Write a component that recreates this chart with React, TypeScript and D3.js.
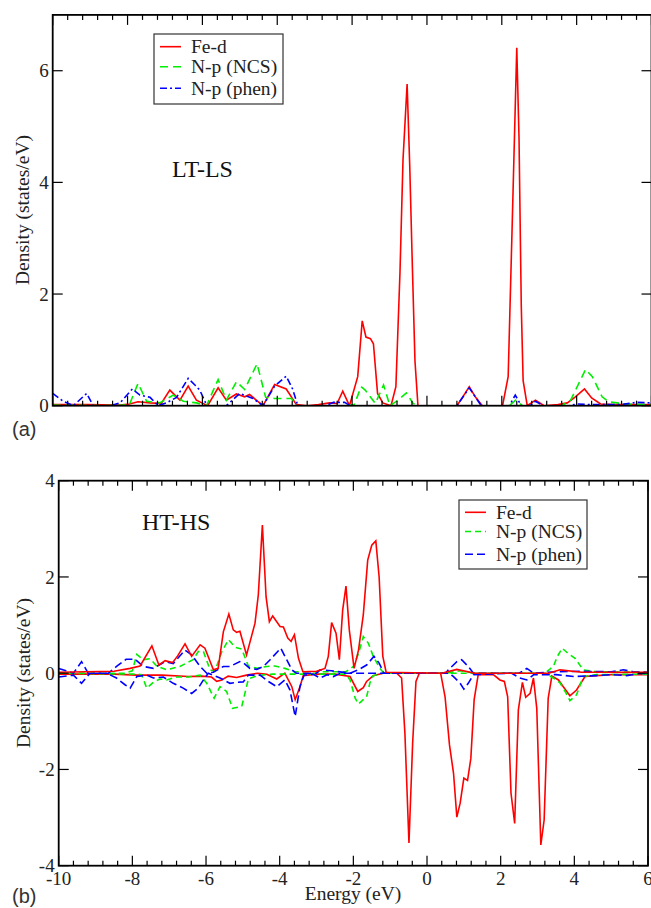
import React from "react";
import * as d3 from "d3";

type P = [number, number];

// ---------- Panel (a): LT-LS ----------
const feD_LT: P[] = [[-10,0.02],[-9.1,0.02],[-8.2,0.01],[-7.95,0.03],[-7.72,0.07],[-7.4,0.05],[-7.1,0.04],[-6.87,0.28],[-6.6,0.1],[-6.38,0.35],[-6.16,0.1],[-5.86,0.0],[-5.58,0.32],[-5.36,0.1],[-5.09,0.21],[-4.87,0.16],[-4.74,0.2],[-4.38,0.0],[-4.07,0.38],[-3.76,0.3],[-3.49,0.02],[-3.2,0.0],[-2.9,0.02],[-2.6,0.05],[-2.4,0.04],[-2.25,0.26],[-2.07,0.0],[-1.85,0.52],[-1.73,1.52],[-1.63,1.23],[-1.51,1.2],[-1.43,1.11],[-1.32,0.22],[-1.18,0.05],[-0.96,0.0],[-0.83,0.34],[-0.72,2.4],[-0.64,4.4],[-0.53,5.76],[-0.46,4.3],[-0.39,2.5],[-0.32,0.8],[-0.24,0.0],[0.8,0.0],[0.95,0.15],[1.13,0.34],[1.3,0.15],[1.48,0.0],[2.02,0.0],[2.17,0.52],[2.28,3.3],[2.4,6.41],[2.46,4.8],[2.52,1.8],[2.57,0.45],[2.68,0.0],[2.9,0.1],[3.13,0.0],[3.5,0.02],[3.75,0.05],[3.95,0.15],[4.21,0.3],[4.4,0.14],[4.64,0.03],[5.0,0.02],[6,0.02]];
const ncs_LT: P[] = [[-10,0.01],[-8.3,0.0],[-7.95,0.02],[-7.72,0.4],[-7.49,0.08],[-7.14,0.05],[-6.78,0.19],[-6.51,0.08],[-6.16,0.05],[-5.89,0.0],[-5.58,0.47],[-5.36,0.1],[-5.09,0.43],[-4.87,0.29],[-4.54,0.75],[-4.31,0.15],[-4.07,0.13],[-3.62,0.13],[-3.49,0.0],[-2.1,0.0],[-1.94,0.02],[-1.76,0.34],[-1.65,0.28],[-1.38,0.04],[-1.16,0.37],[-0.99,0.0],[-0.77,0.1],[-0.55,0.23],[-0.37,0.04],[-0.2,0.0],[2.2,0.0],[2.37,0.1],[2.55,0.0],[3.6,0.0],[3.84,0.1],[4.24,0.65],[4.42,0.52],[4.68,0.16],[4.86,0.07],[5.3,0.03],[6,0.02]];
const phen_LT: P[] = [[-10,0.22],[-9.72,0.08],[-9.45,0.0],[-9.09,0.22],[-8.92,0.0],[-8.47,0.0],[-8.2,0.05],[-7.87,0.3],[-7.67,0.19],[-7.4,0.15],[-7.18,0.0],[-6.96,0.05],[-6.69,0.15],[-6.38,0.49],[-6.2,0.37],[-6.07,0.28],[-5.88,0.0],[-5.36,0.0],[-5.0,0.22],[-4.65,0.13],[-4.38,0.0],[-4.07,0.35],[-3.76,0.53],[-3.59,0.3],[-3.45,0.0],[-2.7,0.0],[-2.5,0.06],[-2.2,0.06],[-2.05,0.0],[0.8,0.0],[1.13,0.32],[1.45,0.0],[2.2,0.0],[2.36,0.19],[2.52,0.0],[2.75,0.0],[2.9,0.08],[3.1,0.0],[3.8,0.0],[4.0,0.03],[4.4,0.02],[5.2,0.02],[5.6,0.06],[6,0.05]];

// ---------- Panel (b): HT-HS ----------
const feUp_HT: P[] = [[-10,0.02],[-8.5,0.04],[-8.06,0.1],[-7.79,0.15],[-7.47,0.57],[-7.28,0.17],[-7.11,0.26],[-6.91,0.22],[-6.77,0.36],[-6.57,0.61],[-6.39,0.35],[-6.16,0.59],[-6.03,0.52],[-5.8,0.07],[-5.67,0.1],[-5.53,0.86],[-5.38,1.23],[-5.26,0.9],[-5.17,0.85],[-5.08,0.87],[-4.9,0.38],[-4.67,1.04],[-4.58,1.63],[-4.47,3.08],[-4.37,1.59],[-4.28,1.07],[-4.19,1.19],[-3.99,0.97],[-3.9,0.96],[-3.78,0.73],[-3.69,0.66],[-3.6,0.8],[-3.49,0.31],[-3.37,0.03],[-3.0,0.04],[-2.77,0.1],[-2.68,0.35],[-2.59,1.05],[-2.47,0.83],[-2.38,0.28],[-2.29,1.31],[-2.2,1.81],[-2.11,0.9],[-1.98,0.1],[-1.86,0.48],[-1.73,1.21],[-1.61,2.35],[-1.5,2.66],[-1.39,2.75],[-1.3,2.0],[-1.2,0.35],[-1.11,0.02],[0.4,0.0],[0.81,0.08],[1.3,0.0],[3.3,0.0],[3.61,0.07],[4.2,0.02],[6,0.02]];
const feDn_HT: P[] = [[-10,-0.02],[-8.5,-0.02],[-7.88,-0.04],[-7.2,-0.04],[-6.48,-0.07],[-6.12,-0.06],[-5.85,-0.08],[-5.71,-0.17],[-5.57,-0.14],[-5.4,-0.06],[-5.17,-0.09],[-4.9,-0.04],[-4.6,0.0],[-4.35,-0.02],[-4.08,-0.12],[-3.86,0.0],[-3.67,-0.28],[-3.58,-0.55],[-3.45,-0.28],[-3.36,-0.05],[-3.0,-0.02],[-2.5,-0.02],[-2.09,-0.07],[-1.88,-0.38],[-1.73,-0.3],[-1.64,-0.17],[-1.46,-0.05],[-1.2,0.0],[-0.82,0.0],[-0.69,-0.1],[-0.6,-1.25],[-0.49,-3.53],[-0.39,-1.45],[-0.3,-0.17],[-0.21,0.0],[0.37,0.0],[0.49,-0.49],[0.61,-1.49],[0.72,-2.08],[0.81,-2.99],[0.9,-2.7],[1.0,-2.18],[1.1,-2.23],[1.19,-1.77],[1.28,-0.55],[1.39,-0.03],[1.8,-0.03],[1.98,-0.14],[2.1,-0.17],[2.19,-0.49],[2.28,-2.49],[2.38,-3.12],[2.48,-0.76],[2.59,-0.19],[2.68,-0.5],[2.8,-0.42],[2.89,-0.1],[2.98,-0.73],[3.09,-3.57],[3.18,-3.05],[3.29,-0.52],[3.39,-0.06],[3.57,-0.14],[3.7,-0.28],[3.88,-0.47],[4.06,-0.35],[4.29,-0.07],[5,-0.03],[6,-0.03]];
const ncsUp_HT: P[] = [[-10,0.0],[-8.2,0.0],[-8.0,0.05],[-7.88,0.39],[-7.7,0.28],[-7.52,0.3],[-7.34,0.15],[-7.07,0.07],[-6.71,0.14],[-6.35,0.28],[-6.21,0.45],[-6.07,0.45],[-5.89,0.07],[-5.76,0.04],[-5.57,0.45],[-5.39,0.7],[-5.21,0.54],[-5.03,0.5],[-4.85,0.15],[-4.62,0.1],[-4.35,0.14],[-4.13,0.15],[-3.86,0.1],[-3.6,0.03],[-2.2,0.03],[-2.0,0.14],[-1.86,0.41],[-1.73,0.76],[-1.59,0.62],[-1.46,0.35],[-1.28,0.1],[-1.17,0.0],[0.5,0.0],[0.9,0.05],[1.3,0.0],[3.2,0.0],[3.43,0.14],[3.54,0.35],[3.67,0.52],[3.83,0.41],[4.02,0.31],[4.24,0.07],[4.6,0.03],[6,0.02]];
const ncsDn_HT: P[] = [[-10,0.0],[-7.9,-0.02],[-7.75,-0.03],[-7.61,-0.31],[-7.43,-0.19],[-7.25,-0.12],[-7.07,-0.14],[-6.8,-0.08],[-6.48,-0.08],[-6.16,-0.04],[-5.98,-0.21],[-5.78,-0.52],[-5.62,-0.28],[-5.44,-0.38],[-5.28,-0.73],[-5.03,-0.69],[-4.85,-0.12],[-4.6,-0.05],[-4.2,-0.02],[-2.2,-0.02],[-2.09,-0.14],[-1.95,-0.52],[-1.86,-0.64],[-1.73,-0.55],[-1.64,-0.49],[-1.55,-0.2],[-1.46,-0.05],[-1.2,0.0],[3.2,0.0],[3.43,-0.1],[3.61,-0.2],[3.75,-0.38],[3.88,-0.57],[4.06,-0.45],[4.24,-0.07],[4.6,-0.03],[6,-0.02]];
const phenUp_HT: P[] = [[-10,0.1],[-9.8,0.05],[-9.6,0.0],[-9.38,0.24],[-9.2,0.0],[-8.65,0.0],[-8.43,0.14],[-8.17,0.29],[-7.93,0.29],[-7.7,0.14],[-7.43,0.1],[-7.11,0.24],[-6.89,0.2],[-6.57,0.48],[-6.39,0.38],[-6.16,0.14],[-5.98,0.0],[-5.8,0.02],[-5.53,0.14],[-5.35,0.14],[-5.08,0.24],[-4.99,0.22],[-4.81,0.1],[-4.62,0.08],[-4.44,0.14],[-4.26,0.28],[-3.97,0.52],[-3.81,0.28],[-3.67,0.07],[-3.55,0.0],[-3.0,0.0],[-2.9,0.07],[-2.6,0.05],[-2.09,0.0],[-1.86,0.07],[-1.64,0.17],[-1.44,0.35],[-1.3,0.21],[-1.17,0.0],[0.5,0.0],[0.58,0.07],[0.81,0.24],[0.94,0.28],[1.12,0.14],[1.26,0.0],[2.5,0.0],[2.71,0.1],[2.9,0.0],[3.5,0.03],[4.2,0.04],[5.0,0.03],[5.33,0.07],[5.6,0.03],[6,0.02]];
const phenDn_HT: P[] = [[-10,-0.08],[-9.6,-0.04],[-9.38,-0.21],[-9.15,0.0],[-8.7,0.0],[-8.43,-0.1],[-8.2,-0.24],[-8.06,-0.31],[-7.88,-0.07],[-7.61,-0.04],[-7.43,-0.1],[-7.16,-0.08],[-6.89,-0.21],[-6.62,-0.31],[-6.39,-0.42],[-6.21,-0.31],[-6.07,-0.14],[-5.94,0.0],[-5.62,-0.1],[-5.35,-0.21],[-5.17,-0.19],[-4.99,-0.18],[-4.85,-0.04],[-4.53,-0.04],[-4.31,-0.17],[-4.08,-0.28],[-3.86,-0.14],[-3.72,-0.35],[-3.58,-0.9],[-3.45,-0.28],[-3.34,-0.04],[-3.1,-0.02],[-2.9,-0.1],[-2.7,-0.03],[-2.54,-0.07],[-2.35,0.0],[0.6,0.0],[0.72,-0.07],[0.9,-0.21],[1.0,-0.33],[1.12,-0.21],[1.26,-0.03],[2.3,0.0],[2.52,-0.1],[2.71,-0.14],[2.9,-0.03],[3.5,-0.03],[4.0,-0.07],[4.6,-0.05],[5.0,-0.03],[5.42,-0.05],[5.8,0.0],[6,-0.01]];

const legendLabels = ["Fe-d", "N-p (NCS)", "N-p (phen)"];
const xMajorTicks = [-10, -8, -6, -4, -2, 0, 2, 4, 6];
const yTicksA = [0, 2, 4, 6];
const yTicksB = [-4, -2, 0, 2, 4];

const RED = "#ff0000";
const GREEN = "#00ee00";
const BLUE = "#0000ff";
const SERIF = "'Liberation Serif', 'Times New Roman', serif";
const SANS = "'Liberation Sans', Arial, sans-serif";

type Series = { data: P[]; color: string; dash?: string };

function Panel(props: {
  id: string;
  x: d3.ScaleLinear<number, number>;
  y: d3.ScaleLinear<number, number>;
  yTicks: number[];
  series: Series[];
  xLabels: boolean;
}) {
  const { id, x, y, yTicks, series, xLabels } = props;
  const [x0, x1] = x.range();
  const [yb, yt] = y.range();
  const line = d3.line<P>().x((d) => x(d[0])).y((d) => y(d[1]));
  const minor = d3.range(-10, 6.0001, 0.4).filter((v) => Math.abs(v / 2 - Math.round(v / 2)) > 1e-6);
  const ticks: JSX.Element[] = [];
  xMajorTicks.forEach((v, i) => {
    const px = x(v);
    ticks.push(<line key={"tM" + i} x1={px} x2={px} y1={yt} y2={yt + 10} />);
    ticks.push(<line key={"bM" + i} x1={px} x2={px} y1={yb} y2={yb - 10} />);
  });
  minor.forEach((v, i) => {
    const px = x(v);
    ticks.push(<line key={"tm" + i} x1={px} x2={px} y1={yt} y2={yt + 5} />);
    ticks.push(<line key={"bm" + i} x1={px} x2={px} y1={yb} y2={yb - 5} />);
  });
  yTicks.forEach((v, i) => {
    const py = y(v);
    ticks.push(<line key={"lM" + i} x1={x0} x2={x0 + 10} y1={py} y2={py} />);
    ticks.push(<line key={"rM" + i} x1={x1} x2={x1 - 10} y1={py} y2={py} />);
  });
  return (
    <g>
      <defs>
        <clipPath id={id}>
          <rect x={x0} y={yt} width={x1 - x0} height={yb - yt} />
        </clipPath>
      </defs>
      <g clipPath={`url(#${id})`}>
        {series.map((s, i) => (
          <path key={i} d={line(s.data) || ""} fill="none" stroke={s.color} strokeWidth={1.6} strokeDasharray={s.dash} />
        ))}
      </g>
      <g stroke="#000" strokeWidth={1.2}>{ticks}</g>
      <rect x={x0} y={yt} width={x1 - x0} height={yb - yt} fill="none" stroke="#000" strokeWidth={1.8} />
      <g fontFamily={SERIF} fontSize={19} fill="#222">
        {yTicks.map((v, i) => (
          <text key={i} x={x0 - 4} y={y(v)} dy="0.35em" textAnchor="end">{String(v)}</text>
        ))}
        {xLabels &&
          xMajorTicks.map((v, i) => (
            <text key={"x" + i} x={x(v)} y={yb + 19} textAnchor="middle">{String(v)}</text>
          ))}
      </g>
    </g>
  );
}

function Legend(props: { x: number; y: number; w: number; h: number; rows: number[]; series: Series[] }) {
  const { x, y, w, h, rows, series } = props;
  return (
    <g>
      <rect x={x} y={y} width={w} height={h} fill="#fff" stroke="#333" strokeWidth={1.2} />
      {legendLabels.map((lab, i) => (
        <g key={i}>
          <line x1={x + 6} x2={x + 27} y1={rows[i]} y2={rows[i]} stroke={series[i].color} strokeWidth={1.6} strokeDasharray={series[i].dash} />
          <text x={x + 37} y={rows[i]} dy="0.33em" fontFamily={SERIF} fontSize={19.5} fill="#222">{lab}</text>
        </g>
      ))}
    </g>
  );
}

export default function App() {
  const xA = d3.scaleLinear().domain([-10, 6]).range([52.7, 651.5]);
  const yA = d3.scaleLinear().domain([0, 7]).range([405.7, 14.9]);
  const xB = d3.scaleLinear().domain([-10, 6]).range([58.7, 648]);
  const yB = d3.scaleLinear().domain([-4, 4]).range([865.7, 480.7]);

  const seriesA: Series[] = [
    { data: feD_LT, color: RED },
    { data: ncs_LT, color: GREEN, dash: "8,5" },
    { data: phen_LT, color: BLUE, dash: "7,3,2,3" },
  ];
  const seriesB: Series[] = [
    { data: feDn_HT, color: RED },
    { data: ncsUp_HT, color: GREEN, dash: "6,4" },
    { data: ncsDn_HT, color: GREEN, dash: "6,4" },
    { data: phenUp_HT, color: BLUE, dash: "8,4" },
    { data: phenDn_HT, color: BLUE, dash: "8,4" },
    { data: feUp_HT, color: RED },
  ];
  const legendB: Series[] = [
    { data: [], color: RED },
    { data: [], color: GREEN, dash: "6,4" },
    { data: [], color: BLUE, dash: "8,4" },
  ];

  return (
    <svg width={651} height={908} viewBox="0 0 651 908" style={{ position: "absolute", left: 0, top: 0, display: "block", background: "#fff" }}>
      <rect x={0} y={0} width={651} height={908} fill="#fff" />
      <Panel id="clipA" x={xA} y={yA} yTicks={yTicksA} series={seriesA} xLabels={false} />
      <Panel id="clipB" x={xB} y={yB} yTicks={yTicksB} series={seriesB} xLabels={true} />
      <Legend x={154} y={34} w={129} h={70} rows={[46.7, 66.7, 88.3]} series={seriesA} />
      <Legend x={459} y={500} w={128} h={69} rows={[512.3, 531.5, 554.3]} series={legendB} />
      <text x={172} y={176.5} fontFamily={SERIF} fontSize={24} fill="#111">LT-LS</text>
      <text x={142} y={530} fontFamily={SERIF} fontSize={24} fill="#111">HT-HS</text>
      <text transform="translate(29,210) rotate(-90)" textAnchor="middle" fontFamily={SERIF} fontSize={19.5} fill="#222">Density (states/eV)</text>
      <text transform="translate(30,673) rotate(-90)" textAnchor="middle" fontFamily={SERIF} fontSize={19.5} fill="#222">Density (states/eV)</text>
      <text x={353} y={900} textAnchor="middle" fontFamily={SERIF} fontSize={19.5} fill="#222">Energy (eV)</text>
      <text x={12} y={436} fontFamily={SANS} fontSize={20} fill="#333">(a)</text>
      <text x={12} y={903} fontFamily={SANS} fontSize={20} fill="#333">(b)</text>
    </svg>
  );
}
